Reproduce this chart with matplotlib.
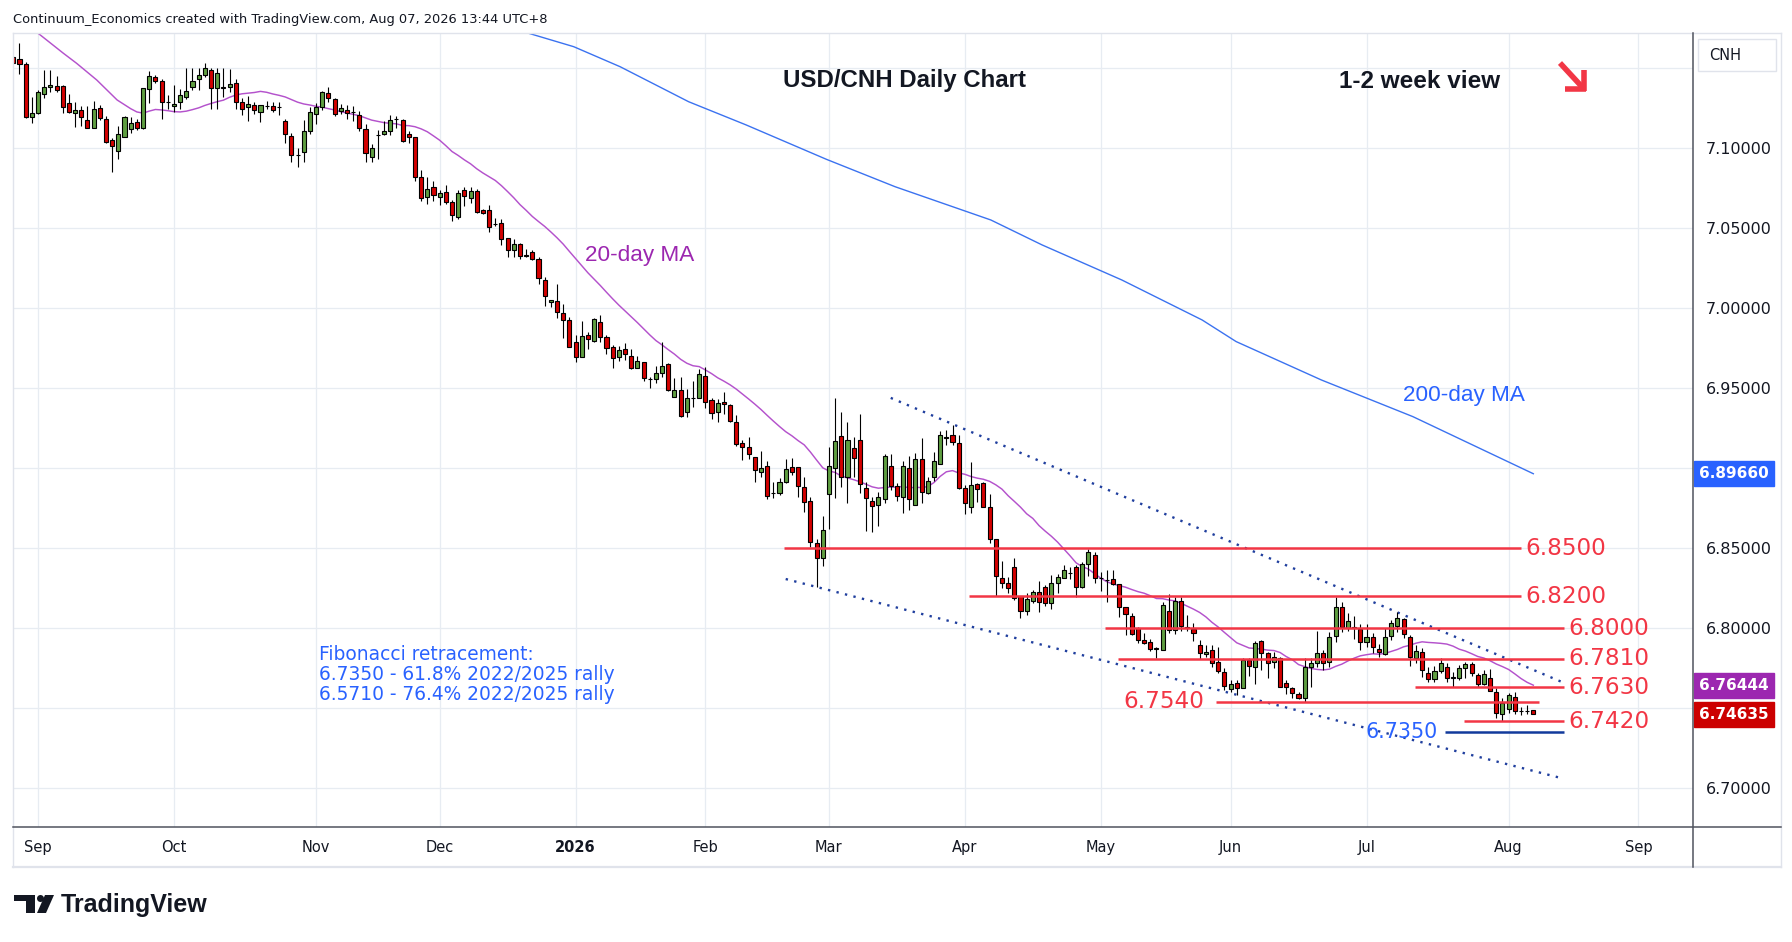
import numpy as np
import pandas as pd
import matplotlib
matplotlib.use('Agg')
import matplotlib.pyplot as plt
from matplotlib.lines import Line2D
from matplotlib.patches import Rectangle, Polygon, Ellipse

W, H = 1792, 942

# ---- daily USD/CNH candles, 26 Aug 2025 .. 7 Aug 2026 ----
opens = [
    7.1569, 7.1556, 7.1525, 7.1198, 7.1219, 7.1338, 7.1381, 7.1388, 7.1388, 7.1281,
    7.1223, 7.1238, 7.1175, 7.1129, 7.1254, 7.1181, 7.1050, 7.0981, 7.1073, 7.1119,
    7.1163, 7.1129, 7.1369, 7.1444, 7.1419, 7.1290, 7.1263, 7.1292, 7.1323, 7.1381,
    7.1431, 7.1456, 7.1488, 7.1375, 7.1381, 7.1381, 7.1410, 7.1292, 7.1256, 7.1269,
    7.1229, 7.1263, 7.1263, 7.1256, 7.1169, 7.1075, 7.0958, 7.0975, 7.1106, 7.1213,
    7.1260, 7.1344, 7.1306, 7.1235, 7.1238, 7.1225, 7.1206, 7.1119, 7.0944, 7.1083,
    7.1088, 7.1108, 7.1181, 7.1175, 7.1090, 7.1069, 7.0819, 7.0694, 7.0756, 7.0694,
    7.0725, 7.0667, 7.0569, 7.0740, 7.0690, 7.0730, 7.0615, 7.0615, 7.0527, 7.0531,
    7.0438, 7.0365, 7.0402, 7.0330, 7.0350, 7.0306, 7.0177, 7.0038, 7.0046, 6.9969,
    6.9927, 6.9788, 6.9698, 6.9833, 6.9798, 6.9913, 6.9819, 6.9756, 6.9694, 6.9744,
    6.9702, 6.9629, 6.9663, 6.9560, 6.9556, 6.9594, 6.9652, 6.9444, 6.9490, 6.9350,
    6.9442, 6.9442, 6.9575, 6.9427, 6.9350, 6.9413, 6.9394, 6.9292, 6.9156, 6.9131,
    6.9069, 6.8975, 6.9015, 6.8848, 6.8848, 6.8917, 6.9006, 6.9006, 6.8885, 6.8794,
    6.8531, 6.8442, 6.8838, 6.9000, 6.9202, 6.8948, 6.9125, 6.9177, 6.8875, 6.8796,
    6.8769, 6.8806, 6.9013, 6.8888, 6.8823, 6.9000, 6.8773, 6.9056, 6.8844, 6.8948,
    6.9025, 6.9194, 6.9208, 6.9156, 6.8875, 6.8760, 6.8900, 6.8906, 6.8756, 6.8556,
    6.8313, 6.8281, 6.8385, 6.8204, 6.8106, 6.8173, 6.8229, 6.8256, 6.8156, 6.8281,
    6.8313, 6.8344, 6.8381, 6.8256, 6.8400, 6.8456, 6.8317, 6.8302, 6.8306, 6.8275,
    6.8135, 6.8079, 6.8000, 6.7927, 6.7912, 6.7875, 6.7862, 6.8108, 6.7990, 6.8171,
    6.8005, 6.7996, 6.7896, 6.7840, 6.7865, 6.7787, 6.7725, 6.7619, 6.7656, 6.7625,
    6.7802, 6.7756, 6.7921, 6.7844, 6.7787, 6.7812, 6.7656, 6.7625, 6.7587, 6.7562,
    6.7756, 6.7785, 6.7844, 6.7787, 6.7954, 6.8131, 6.8004, 6.8005, 6.7996, 6.7912,
    6.7944, 6.7871, 6.7837, 6.7954, 6.8017, 6.8058, 6.7948, 6.7812, 6.7850, 6.7723,
    6.7681, 6.7733, 6.7760, 6.7694, 6.7687, 6.7750, 6.7775, 6.7708, 6.7650, 6.7687,
    6.7600, 6.7465, 6.7494, 6.7573, 6.7485, 6.7485, 6.7489,
]
highs = [
    7.1577, 7.1656, 7.1538, 7.1323, 7.1365, 7.1490, 7.1490, 7.1452, 7.1396, 7.1338,
    7.1292, 7.1267, 7.1265, 7.1296, 7.1269, 7.1202, 7.1063, 7.1140, 7.1202, 7.1194,
    7.1181, 7.1379, 7.1483, 7.1458, 7.1431, 7.1333, 7.1396, 7.1369, 7.1500, 7.1500,
    7.1500, 7.1531, 7.1500, 7.1500, 7.1500, 7.1494, 7.1431, 7.1313, 7.1327, 7.1290,
    7.1273, 7.1298, 7.1288, 7.1288, 7.1181, 7.1094, 7.1004, 7.1177, 7.1258, 7.1285,
    7.1358, 7.1381, 7.1313, 7.1277, 7.1271, 7.1265, 7.1233, 7.1152, 7.1027, 7.1115,
    7.1171, 7.1208, 7.1202, 7.1181, 7.1108, 7.1069, 7.0865, 7.0819, 7.0796, 7.0740,
    7.0771, 7.0677, 7.0740, 7.0760, 7.0760, 7.0745, 7.0620, 7.0646, 7.0563, 7.0556,
    7.0438, 7.0431, 7.0410, 7.0371, 7.0365, 7.0323, 7.0194, 7.0052, 7.0150, 7.0025,
    6.9944, 6.9833, 6.9921, 6.9850, 6.9938, 6.9958, 6.9833, 6.9771, 6.9767, 6.9781,
    6.9744, 6.9702, 6.9663, 6.9573, 6.9640, 6.9788, 6.9660, 6.9563, 6.9569, 6.9494,
    6.9546, 6.9619, 6.9635, 6.9438, 6.9433, 6.9475, 6.9400, 6.9333, 6.9177, 6.9194,
    6.9073, 6.9108, 6.9048, 6.8917, 6.8938, 6.9056, 6.9063, 6.9006, 6.8948, 6.8819,
    6.8556, 6.8702, 6.9135, 6.9438, 6.9350, 6.9288, 6.9198, 6.9338, 6.8917, 6.8821,
    6.8854, 6.9090, 6.9090, 6.8906, 6.9048, 6.9077, 6.9094, 6.9188, 6.8948, 6.9104,
    6.9235, 6.9240, 6.9271, 6.9208, 6.8896, 6.9042, 6.8906, 6.8917, 6.8840, 6.8556,
    6.8421, 6.8323, 6.8438, 6.8204, 6.8223, 6.8240, 6.8296, 6.8271, 6.8333, 6.8340,
    6.8396, 6.8385, 6.8396, 6.8417, 6.8494, 6.8475, 6.8354, 6.8365, 6.8365, 6.8275,
    6.8135, 6.8098, 6.8010, 6.7973, 6.7933, 6.7885, 6.8162, 6.8215, 6.8198, 6.8198,
    6.8083, 6.8031, 6.7927, 6.7896, 6.7896, 6.7881, 6.7750, 6.7677, 6.7677, 6.7812,
    6.7817, 6.7921, 6.7927, 6.7850, 6.7850, 6.7823, 6.7677, 6.7635, 6.7604, 6.7812,
    6.7812, 6.7985, 6.7865, 6.7979, 6.8198, 6.8167, 6.8094, 6.8077, 6.8025, 6.8025,
    6.7969, 6.7900, 6.8000, 6.8052, 6.8104, 6.8067, 6.7958, 6.7896, 6.7879, 6.7760,
    6.7765, 6.7812, 6.7781, 6.7729, 6.7771, 6.7792, 6.7792, 6.7719, 6.7740, 6.7744,
    6.7629, 6.7562, 6.7594, 6.7604, 6.7510, 6.7521, 6.7489,
]
lows = [
    7.1531, 7.1463, 7.1188, 7.1160, 7.1215, 7.1313, 7.1354, 7.1354, 7.1223, 7.1219,
    7.1135, 7.1142, 7.1125, 7.1129, 7.1177, 7.1035, 7.0854, 7.0931, 7.1073, 7.1094,
    7.1115, 7.1123, 7.1285, 7.1406, 7.1185, 7.1246, 7.1225, 7.1246, 7.1310, 7.1365,
    7.1365, 7.1448, 7.1244, 7.1244, 7.1323, 7.1354, 7.1244, 7.1208, 7.1171, 7.1215,
    7.1167, 7.1244, 7.1229, 7.1208, 7.1031, 7.0917, 7.0885, 7.0917, 7.1090, 7.1150,
    7.1240, 7.1288, 7.1204, 7.1215, 7.1185, 7.1171, 7.1108, 7.0917, 7.0913, 7.0931,
    7.1083, 7.1083, 7.1125, 7.1042, 7.1031, 7.0798, 7.0673, 7.0652, 7.0673, 7.0646,
    7.0652, 7.0546, 7.0560, 7.0640, 7.0656, 7.0595, 7.0590, 7.0479, 7.0515, 7.0396,
    7.0319, 7.0323, 7.0308, 7.0323, 7.0302, 7.0150, 7.0017, 7.0006, 6.9938, 6.9813,
    6.9756, 6.9667, 6.9698, 6.9744, 6.9792, 6.9788, 6.9715, 6.9629, 6.9673, 6.9677,
    6.9619, 6.9625, 6.9548, 6.9500, 6.9535, 6.9569, 6.9485, 6.9444, 6.9319, 6.9323,
    6.9385, 6.9442, 6.9379, 6.9310, 6.9292, 6.9340, 6.9292, 6.9142, 6.9052, 6.9056,
    6.8917, 6.8948, 6.8808, 6.8817, 6.8833, 6.8906, 6.8958, 6.8823, 6.8729, 6.8510,
    6.8260, 6.8392, 6.8621, 6.8813, 6.8881, 6.8785, 6.8948, 6.8848, 6.8610, 6.8604,
    6.8642, 6.8781, 6.8865, 6.8798, 6.8723, 6.8740, 6.8773, 6.8781, 6.8838, 6.8921,
    6.9025, 6.9146, 6.9146, 6.8871, 6.8713, 6.8723, 6.8792, 6.8756, 6.8535, 6.8204,
    6.8250, 6.8223, 6.8177, 6.8063, 6.8083, 6.8156, 6.8104, 6.8140, 6.8119, 6.8219,
    6.8313, 6.8306, 6.8198, 6.8250, 6.8327, 6.8281, 6.8235, 6.8163, 6.8271, 6.8073,
    6.7958, 6.7958, 6.7910, 6.7900, 6.7860, 6.7817, 6.7862, 6.7969, 6.7962, 6.7985,
    6.7985, 6.7923, 6.7806, 6.7823, 6.7760, 6.7719, 6.7615, 6.7600, 6.7583, 6.7625,
    6.7704, 6.7650, 6.7740, 6.7692, 6.7750, 6.7631, 6.7590, 6.7562, 6.7556, 6.7542,
    6.7631, 6.7760, 6.7740, 6.7760, 6.7912, 6.7975, 6.7985, 6.7933, 6.7865, 6.7881,
    6.7844, 6.7819, 6.7833, 6.7927, 6.7979, 6.7942, 6.7767, 6.7781, 6.7694, 6.7667,
    6.7667, 6.7723, 6.7667, 6.7635, 6.7677, 6.7687, 6.7702, 6.7635, 6.7646, 6.7608,
    6.7442, 6.7423, 6.7469, 6.7462, 6.7458, 6.7462, 6.74635,
]
closes = [
    7.1535, 7.1525, 7.1198, 7.1219, 7.1350, 7.1381, 7.1396, 7.1367, 7.1260, 7.1225,
    7.1238, 7.1198, 7.1129, 7.1244, 7.1192, 7.1038, 7.1017, 7.1088, 7.1194, 7.1156,
    7.1129, 7.1375, 7.1452, 7.1423, 7.1292, 7.1288, 7.1275, 7.1331, 7.1358, 7.1419,
    7.1458, 7.1500, 7.1375, 7.1469, 7.1379, 7.1402, 7.1292, 7.1244, 7.1275, 7.1238,
    7.1269, 7.1262, 7.1242, 7.1255, 7.1088, 7.0956, 7.0956, 7.1106, 7.1225, 7.1258,
    7.1350, 7.1313, 7.1213, 7.1250, 7.1223, 7.1224, 7.1125, 7.0969, 7.1000, 7.1083,
    7.1108, 7.1175, 7.1180, 7.1048, 7.1069, 7.0823, 7.0688, 7.0744, 7.0706, 7.0719,
    7.0667, 7.0583, 7.0720, 7.0700, 7.0730, 7.0604, 7.0598, 7.0510, 7.0525, 7.0431,
    7.0365, 7.0402, 7.0329, 7.0329, 7.0306, 7.0188, 7.0079, 7.0050, 6.9975, 6.9927,
    6.9756, 6.9694, 6.9827, 6.9806, 6.9933, 6.9819, 6.9754, 6.9688, 6.9740, 6.9713,
    6.9629, 6.9673, 6.9563, 6.9558, 6.9594, 6.9640, 6.9490, 6.9490, 6.9329, 6.9438,
    6.9440, 6.9588, 6.9413, 6.9348, 6.9406, 6.9400, 6.9296, 6.9152, 6.9131, 6.9088,
    6.8988, 6.9000, 6.8829, 6.8846, 6.8913, 6.8994, 6.8975, 6.8892, 6.8792, 6.8542,
    6.8442, 6.8615, 6.9015, 6.9169, 6.8948, 6.9177, 6.9067, 6.8900, 6.8813, 6.8763,
    6.8821, 6.9077, 6.8892, 6.8829, 6.9013, 6.8806, 6.9056, 6.8850, 6.8921, 6.9046,
    6.9208, 6.9192, 6.9163, 6.8875, 6.8781, 6.8896, 6.8869, 6.8756, 6.8556, 6.8329,
    6.8281, 6.8254, 6.8188, 6.8106, 6.8181, 6.8225, 6.8163, 6.8156, 6.8281, 6.8319,
    6.8363, 6.8343, 6.8260, 6.8400, 6.8475, 6.8313, 6.8315, 6.8300, 6.8275, 6.8131,
    6.8088, 6.7965, 6.7927, 6.7906, 6.7869, 6.7873, 6.8144, 6.7990, 6.8171, 6.8017,
    6.8003, 6.7973, 6.7844, 6.7850, 6.7785, 6.7733, 6.7642, 6.7652, 6.7625, 6.7802,
    6.7767, 6.7906, 6.7844, 6.7781, 6.7819, 6.7631, 6.7631, 6.7594, 6.7567, 6.7760,
    6.7781, 6.7844, 6.7781, 6.7948, 6.8131, 6.8010, 6.8046, 6.8003, 6.7912, 6.7944,
    6.7881, 6.7854, 6.7944, 6.8031, 6.8062, 6.7962, 6.7819, 6.7858, 6.7740, 6.7681,
    6.7733, 6.7781, 6.7687, 6.7692, 6.7750, 6.7777, 6.7719, 6.7650, 6.7715, 6.7608,
    6.7473, 6.7531, 6.7581, 6.7483, 6.7483, 6.7483, 6.74635,
]

# 20-day MA before enough closes are on screen (bar index, value)
ma20_early_x = [-1, 1.4, 4.1, 6.25, 9.5, 12.8]
ma20_early_y = [7.175, 7.1677, 7.1594, 7.1531, 7.1427, 7.1302]

# 200-day MA (bar index, value)
ma200_x = [78, 86.7, 94.2, 105.3, 114.6, 127.6, 138.7, 154.2, 162.5, 175.4, 188.4, 193.9, 207.7, 222.5, 242]
ma200_y = [7.1735, 7.1635, 7.1510, 7.1291, 7.1146, 7.0931, 7.0760, 7.0552, 7.0396, 7.0177, 6.9927, 6.9792, 6.9552, 6.9323, 6.8966]

# horizontal levels
red_levels = [6.8500, 6.8200, 6.8000, 6.7810, 6.7630, 6.7540, 6.7420]
red_starts = [120.7, 150.7, 172.7, 174.8, 222.9, 190.7, 230.8]
red_ends = [240.0, 240.0, 246.95, 246.95, 246.95, 242.9, 246.95]
fib_level = 6.7350

# trend channel (bar index, price)
upper_x = [138.0, 246.9]
upper_y = [6.9440, 6.7660]
lower_x = [121.0, 246.6]
lower_y = [6.8308, 6.7063]

# last values shown on the price scale
last_ma200 = 6.89660
last_ma20 = 6.76444
last_close = 6.74635

# ---- bar positions from trading days (no bars on 25 Dec / 1 Jan) ----
days = pd.bdate_range('2025-08-26', '2026-09-30')
days = days[~days.isin(pd.to_datetime(['2025-12-25', '2026-01-01']))]
pos = np.arange(len(days)) - days.get_loc(pd.Timestamp('2025-09-01'))
n = len(closes)
x = pos[:n]

o = np.array(opens)
h = np.array(highs)
l = np.array(lows)
c = np.array(closes)

months = days.to_period('M')
first = np.r_[False, months[1:] != months[:-1]]
tick_pos = pos[first]
tick_lab = [str(d.year) if d.month == 1 else d.strftime('%b') for d in days[first]]

ma20 = pd.Series(c).rolling(20).mean().values

def fx(v):
    return v / W

def fy(v):
    return 1 - v / H

fig = plt.figure(figsize=(W / 100, H / 100), dpi=100)
fig.patch.set_facecolor('white')
ax = fig.add_axes([13 / W, 1 - 827 / H, (1693 - 13) / W, (827 - 33) / H])
ax.set_xlim(-4.05, 267.84)
ax.set_ylim(6.67581, 7.17206)
for s in ax.spines.values():
    s.set_visible(False)

# grid; 7.15 sits under the currency box and 6.90 under the 200-day MA marker
yt = np.round(np.arange(6.70, 7.1501, 0.05), 2)
ax.set_yticks(yt)
ax.set_yticklabels(['' if (v > 7.12 or abs(v - 6.90) < 1e-6) else '%.5f' % v for v in yt])
ax.set_xticks(tick_pos)
ax.set_xticklabels(tick_lab)
ax.grid(True, color='#e7ecf2', lw=0.9)
ax.set_axisbelow(True)
ax.yaxis.tick_right()
ax.tick_params(axis='y', length=0, pad=9.4, labelsize=11.5, labelcolor='#131722')
ax.tick_params(axis='x', length=0, pad=9.5, labelsize=10.5, labelcolor='#131722')
for t in ax.get_xticklabels():
    if t.get_text() == '2026':
        t.set_fontweight('bold')

# moving averages
ax.plot(ma200_x, ma200_y, color='#3b72f0', lw=1.0, zorder=2)
ma20_x = list(ma20_early_x) + list(x[19:])
ma20_y = list(ma20_early_y) + list(ma20[19:])
ax.plot(ma20_x, ma20_y, color='#b452cc', lw=1.05, zorder=2)

# channel
ax.plot(upper_x, upper_y, color='#203f9e', lw=1.7, ls=(0, (1, 2.7)), zorder=2.5)
ax.plot(lower_x, lower_y, color='#203f9e', lw=1.7, ls=(0, (1, 2.7)), zorder=2.5)

# candles
up = c >= o
ax.vlines(x, l, h, color='black', lw=0.8, zorder=3)
bot = np.minimum(o, c)
hgt = np.maximum(np.abs(c - o), 0.00006)
ax.bar(x[up], hgt[up], bottom=bot[up], width=0.66, color='#5f9e41',
       edgecolor='black', linewidth=0.8, zorder=4)
ax.bar(x[~up], hgt[~up], bottom=bot[~up], width=0.66, color='#d40000',
       edgecolor='black', linewidth=0.8, zorder=4)

# levels
red = '#f23645'
ax.hlines(red_levels, red_starts, red_ends, color=red, lw=1.8, zorder=5)
ax.hlines(fib_level, 227.7, 246.95, color='#123a9c', lw=1.8, zorder=5)
for lv in red_levels[:2]:
    ax.text(240.7, lv, '%.4f' % lv, color=red, fontsize=16.7, ha='left', va='center', zorder=6)
for lv in [6.8000, 6.7810, 6.7630, 6.7420]:
    ax.text(247.6, lv, '%.4f' % lv, color=red, fontsize=16.7, ha='left', va='center', zorder=6)
ax.text(188.8, 6.7540, '6.7540', color=red, fontsize=16.7, ha='right', va='center', zorder=6)
ax.text(226.6, fib_level, '6.7350', color='#2962ff', fontsize=14.9, ha='right', va='center', zorder=6)

# price scale markers
yt_tr = ax.get_yaxis_transform()
for val, col in [(last_ma200, '#2962ff'), (last_ma20, '#9c27b0'), (last_close, '#cc0000')]:
    ax.text(1.0036, val, '%.5f' % val, transform=yt_tr, color='white', fontsize=11,
            fontweight='bold', ha='left', va='center', clip_on=False, zorder=10,
            bbox=dict(boxstyle='square,pad=0.32', fc=col, ec=col))

# annotations
lib = ['Liberation Sans', 'DejaVu Sans']
fig.text(fx(13), fy(20), 'Continuum_Economics created with TradingView.com, Aug 07, 2026 13:44 UTC+8',
         fontsize=9.4, color='#131722', va='center', ha='left')
fig.text(fx(904), fy(80), 'USD/CNH Daily Chart', family=lib, fontweight='bold', fontsize=17.3,
         color='#131722', ha='center', va='center')
fig.text(fx(1420), fy(82), '1-2 week view', family=lib, fontweight='bold', fontsize=17.5,
         color='#131722', ha='center', va='center')
fig.text(fx(640), fy(255), '20-day MA', family=lib, fontsize=16.2, color='#9c27b0',
         ha='center', va='center')
fig.text(fx(1464), fy(395), '200-day MA', family=lib, fontsize=16.2, color='#2962ff',
         ha='center', va='center')
fib_lines = ['Fibonacci retracement:', '6.7350 - 61.8% 2022/2025 rally', '6.5710 - 76.4% 2022/2025 rally']
for k, s in enumerate(fib_lines):
    fig.text(fx(319), fy(655 + 20 * k), s, fontsize=13.4, color='#2962ff', ha='left', va='center')

# red down arrow
arrow_kw = dict(color=red, lw=4.0, solid_capstyle='butt', transform=fig.transFigure)
fig.add_artist(Line2D([fx(1560), fx(1584)], [fy(63), fy(89)], **arrow_kw))
fig.add_artist(Line2D([fx(1584), fx(1584)], [fy(70), fy(91)], **arrow_kw))
fig.add_artist(Line2D([fx(1565), fx(1586)], [fy(89), fy(89)], **arrow_kw))

# chart frame
def fline(xs, ys, **kw):
    fig.add_artist(Line2D([fx(v) for v in xs], [fy(v) for v in ys], transform=fig.transFigure, **kw))

light = '#e0e3eb'
fline([13, 1781], [33, 33], color=light, lw=1)
fline([13, 13], [33, 867], color=light, lw=1)
fline([1781, 1781], [33, 867], color=light, lw=1)
fline([13, 1781], [867, 867], color=light, lw=1.6)
fline([13, 1781], [827, 827], color='#50535e', lw=1.1)
fline([1693, 1693], [33, 867], color='#50535e', lw=1.1)

# currency box
fig.add_artist(Rectangle((fx(1698), fy(71)), 78 / W, 32 / H, transform=fig.transFigure,
                         fc='white', ec=light, lw=1))
fig.text(fx(1709), fy(55), 'CNH', fontsize=10.5, color='#131722', ha='left', va='center')

# TradingView logo
blk = '#131722'
fig.add_artist(Rectangle((fx(14), fy(901)), 21 / W, 6 / H, transform=fig.transFigure, fc=blk, ec='none'))
fig.add_artist(Rectangle((fx(26), fy(913)), 9 / W, 18 / H, transform=fig.transFigure, fc=blk, ec='none'))
fig.add_artist(Ellipse((fx(40.5), fy(898.5)), 7 / W, 7 / H, transform=fig.transFigure, fc=blk, ec='none'))
fig.add_artist(Polygon([(fx(45), fy(895)), (fx(54), fy(895)), (fx(46), fy(913)), (fx(37), fy(913))],
                       closed=True, transform=fig.transFigure, fc=blk, ec='none'))
fig.text(fx(61), fy(905), 'TradingView', family=lib, fontweight='bold', fontsize=18,
         color=blk, ha='left', va='center')

fig.savefig('out.png', dpi=100, facecolor='white')
